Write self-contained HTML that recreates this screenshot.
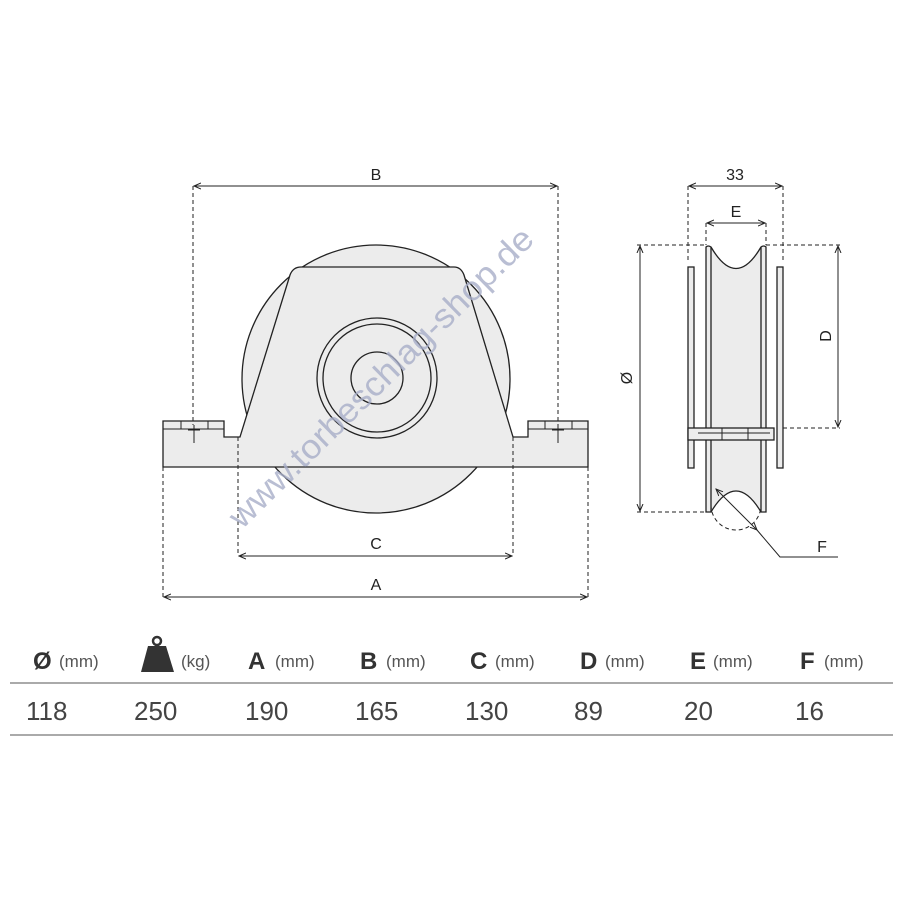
<!DOCTYPE html>
<html><head><style>
body{margin:0;background:#fff;}
svg{display:block;}
</style></head><body>
<svg width="900" height="900" viewBox="0 0 900 900" xmlns="http://www.w3.org/2000/svg" font-family="Liberation Sans, sans-serif">
<defs>
<marker id="ar" markerWidth="8" markerHeight="8" refX="7" refY="4" orient="auto-start-reverse" markerUnits="userSpaceOnUse"><path d="M0,1 L7,4 L0,7" fill="none" stroke="#222" stroke-width="1"/></marker>
</defs>
<g stroke="#222" stroke-width="1.3" fill="#ececec">
<circle cx="376" cy="379" r="134"/>
<path d="M163,421 H224 V437 H240 L290,275 Q293,267 301,267 H454 Q461,267 464,275 L513,437 H528 V421 H588 V467 H163 Z"/>
<circle cx="377" cy="378" r="60"/>
<circle cx="377" cy="378" r="54"/>
<circle cx="377" cy="378" r="26"/>
</g>
<g stroke="#222" stroke-width="1" fill="none">
<path d="M163,429 H224 M181,421 V429 M208,421 V429 M528,429 H588 M545,421 V429 M572,421 V429"/>
<path d="M194,425 V443 M188,430 H200 M558,425 V443 M552,430 H564"/>
</g>
<g stroke="#222" stroke-width="1" fill="none" stroke-dasharray="4,3">
<path d="M193,186 V425 M558,186 V425 M238,437 V556 M513,437 V556 M163,467 V597 M588,467 V597"/>
</g>
<g stroke="#222" stroke-width="1" marker-start="url(#ar)" marker-end="url(#ar)">
<line x1="194" y1="186" x2="557" y2="186"/>
<line x1="239" y1="556" x2="512" y2="556"/>
<line x1="164" y1="597" x2="587" y2="597"/>
</g>
<g font-size="16" fill="#222" text-anchor="middle">
<text x="376" y="180">B</text><text x="376" y="549">C</text><text x="376" y="590">A</text>
</g>
<!-- side view -->
<g stroke="#222" stroke-width="1.3" fill="#ececec">
<rect x="688" y="267" width="6" height="201"/>
<rect x="777" y="267" width="6" height="201"/>
<path d="M706,247 Q708,245 711,247 Q736,290 761,247 Q764,245 766,247 V512 H761 Q736,470 711,512 H706 Z"/>
<path d="M711,247 V512 M761,247 V512" fill="none"/>
<rect x="688" y="428" width="86" height="12"/>
</g>
<g stroke="#222" stroke-width="1" fill="none">
<path d="M698,433 H770 M722,428 V440 M748,428 V440"/>
</g>
<g stroke="#222" stroke-width="1" fill="none" stroke-dasharray="4,3">
<path d="M688,186 V262 M783,186 V262 M706,223 V245 M766,223 V245 M637,245 H706 M766,245 H840 M637,512 H706 M783,428 H840"/>
<path d="M711,505 A25,25 0 0 0 761,505"/>
</g>
<g stroke="#222" stroke-width="1" marker-start="url(#ar)" marker-end="url(#ar)">
<line x1="689" y1="186" x2="782" y2="186"/>
<line x1="707" y1="223" x2="765" y2="223"/>
<line x1="640" y1="246" x2="640" y2="511"/>
<line x1="838" y1="246" x2="838" y2="427"/>
<line x1="716" y1="489" x2="757" y2="530"/>
</g>
<path d="M757,530 L780,557 H838" stroke="#222" stroke-width="1" fill="none"/>
<g font-size="16" fill="#222" text-anchor="middle">
<text x="735" y="180">33</text><text x="736" y="217">E</text>
<text x="822" y="552">F</text>
<text transform="translate(632,378) rotate(-90)">Ø</text>
<text transform="translate(831,336) rotate(-90)">D</text>
</g>
<text transform="translate(242,530) rotate(-44.5)" font-size="34" fill="#a8aec8" fill-opacity="0.8" textLength="412" lengthAdjust="spacingAndGlyphs">www.torbeschlag-shop.de</text>
<!-- table -->
<line x1="10" y1="683" x2="893" y2="683" stroke="#aaa" stroke-width="2"/>
<line x1="10" y1="735" x2="893" y2="735" stroke="#aaa" stroke-width="2"/>
<circle cx="157" cy="641" r="4" fill="none" stroke="#333" stroke-width="2.5"/>
<path d="M148,646 H166 L174,672 H141 Z" fill="#333"/>
<g font-size="24" font-weight="bold" fill="#333">
<text x="33" y="669">Ø</text><text x="248" y="669">A</text><text x="360" y="669">B</text>
<text x="470" y="669">C</text><text x="580" y="669">D</text><text x="690" y="669">E</text><text x="800" y="669">F</text>
</g>
<g font-size="17" fill="#555">
<text x="59" y="667">(mm)</text><text x="181" y="667">(kg)</text><text x="275" y="667">(mm)</text>
<text x="386" y="667">(mm)</text><text x="495" y="667">(mm)</text><text x="605" y="667">(mm)</text>
<text x="713" y="667">(mm)</text><text x="824" y="667">(mm)</text>
</g>
<g font-size="26" fill="#444">
<text x="26" y="720">118</text><text x="134" y="720">250</text><text x="245" y="720">190</text>
<text x="355" y="720">165</text><text x="465" y="720">130</text><text x="574" y="720">89</text>
<text x="684" y="720">20</text><text x="795" y="720">16</text>
</g>
</svg>
</body></html>
